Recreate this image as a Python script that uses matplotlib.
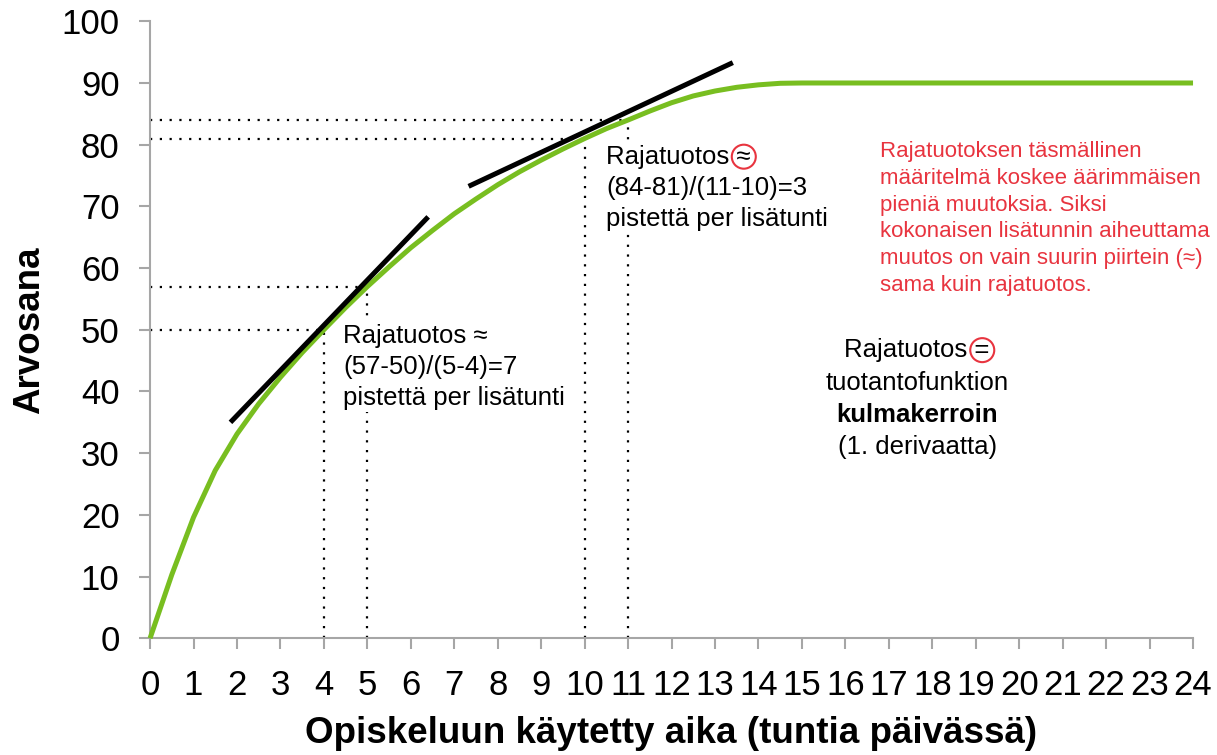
import matplotlib
matplotlib.use("Agg")
import matplotlib.pyplot as plt

plt.rcParams['font.family'] = ['Liberation Sans', 'DejaVu Sans']

# production function
hours = [0, 0.5, 1, 1.5, 2, 2.5, 3, 3.5, 4, 4.5, 5, 5.5, 6, 6.5, 7, 7.5, 8, 8.5,
         9, 9.5, 10, 10.5, 11, 11.5, 12, 12.5, 13, 13.5, 14, 14.5, 15,
         16, 17, 18, 19, 20, 21, 22, 23, 24]
grade = [0, 10.3, 19.6, 27.2, 33.1, 38, 42.3, 46.3, 50, 53.6, 57, 60.2, 63.3, 66.1, 68.8,
         71.2, 73.5, 75.6, 77.5, 79.3, 81, 82.6, 84, 85.45, 86.8, 87.9, 88.7, 89.3,
         89.7, 89.95, 90, 90, 90, 90, 90, 90, 90, 90, 90, 90]

# tangent segments
tan1_x = [1.85, 6.4]
tan1_y = [35.0, 68.3]
tan2_x = [7.33, 13.41]
tan2_y = [73.25, 93.3]

# dotted guide points
marg_x = [4, 5, 10, 11]
marg_y = [50, 57, 81, 84]

x_ticks = list(range(0, 25))
y_ticks = list(range(0, 101, 10))

green = '#78BE20'
red = '#E8343F'
grey = '#A6A6A6'

fig = plt.figure(figsize=(12.17, 7.55), dpi=100)
ax = fig.add_axes([0.1233, 0.1546, 0.857, 0.8172])

for mx, my in zip(marg_x, marg_y):
    ax.plot([mx, mx], [0, my], color='black', lw=1.6, ls=(0, (1, 3.4)), zorder=1)
    ax.plot([0, mx], [my, my], color='black', lw=1.6, ls=(0, (1, 3.4)), zorder=1)

ax.plot(hours, grade, color=green, lw=3.6, solid_capstyle='butt',
        solid_joinstyle='round', zorder=4, clip_on=False)
ax.plot(tan1_x, tan1_y, color='black', lw=3.6, solid_capstyle='butt', zorder=5, clip_on=False)
ax.plot(tan2_x, tan2_y, color='black', lw=3.6, solid_capstyle='butt', zorder=5, clip_on=False)

ax.set_xlim(0, 24)
ax.set_ylim(0, 100)
ax.set_xticks(x_ticks)
ax.set_yticks(y_ticks)
ax.set_xticklabels([str(v) for v in x_ticks], fontsize=25)
ax.set_yticklabels([str(v) for v in y_ticks], fontsize=25)

for s in ['top', 'right']:
    ax.spines[s].set_visible(False)
for s in ['left', 'bottom']:
    ax.spines[s].set_color(grey)
    ax.spines[s].set_linewidth(1.5)
ax.tick_params(direction='out', length=8, width=1.5, color=grey, pad=14)

ax.set_xlabel('Opiskeluun käytetty aika (tuntia päivässä)', fontsize=26.5,
              fontweight='bold', labelpad=10)
ax.set_ylabel('Arvosana', fontsize=26.5, fontweight='bold', labelpad=10)

white = dict(boxstyle='square,pad=0.1', fc='white', ec='none')
circ = dict(boxstyle='circle,pad=0.0', fc='none', ec=red, lw=1.5)

# text next to first tangent
ax.text(4.45, 51.0, 'Rajatuotos ≈\n(57-50)/(5-4)=7\npistettä per lisätunti',
        fontsize=18.5, va='top', ha='left', linespacing=1.37, bbox=white, zorder=3)

# text next to second tangent, with circled sign
ax.text(10.5, 80.0, 'Rajatuotos ≈\n(84-81)/(11-10)=3\npistettä per lisätunti',
        fontsize=18.5, va='top', ha='left', linespacing=1.37, bbox=white, zorder=3)
first = ax.text(10.5, 80.0, 'Rajatuotos ≈', fontsize=18.5, va='top', ha='left',
                alpha=0, zorder=3)
ax.annotate('≈', xy=(1, 0), xycoords=first, ha='right', va='bottom',
            fontsize=18.5, fontweight='bold', color='none', bbox=circ, zorder=6)

ax.text(16.8, 80.6,
        'Rajatuotoksen täsmällinen\nmääritelmä koskee äärimmäisen\n'
        'pieniä muutoksia. Siksi\nkokonaisen lisätunnin aiheuttama\n'
        'muutos on vain suurin piirtein (≈)\nsama kuin rajatuotos.',
        fontsize=16, color=red, va='top', ha='left', linespacing=1.36)

cx = 17.65
line1 = ax.text(cx, 46.7, 'Rajatuotos =', fontsize=18.5, ha='center', va='center')
ax.annotate('=', xy=(1, 0), xycoords=line1, ha='right', va='bottom',
            fontsize=18.5, color='none', bbox=circ, zorder=6)
ax.text(cx, 41.4, 'tuotantofunktion', fontsize=18.5, ha='center', va='center')
ax.text(cx, 36.2, 'kulmakerroin', fontsize=18.5, fontweight='bold', ha='center', va='center')
ax.text(cx, 31.0, '(1. derivaatta)', fontsize=18.5, ha='center', va='center')

fig.savefig('out.png', dpi=100)
